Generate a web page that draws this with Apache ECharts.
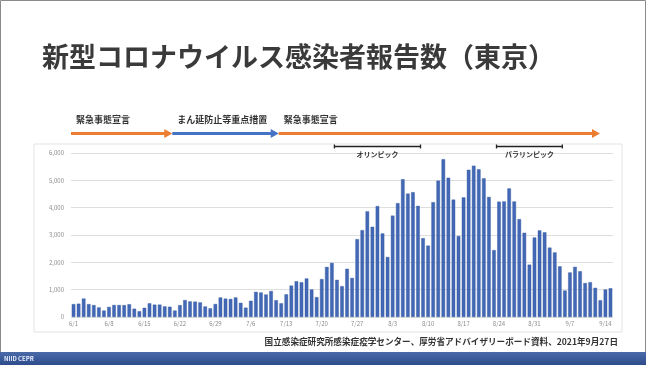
<!DOCTYPE html>
<html>
<head>
<meta charset="utf-8">
<script src="https://cdn.jsdelivr.net/npm/echarts@6/dist/echarts.min.js"></script>
<style>
html,body{margin:0;padding:0;background:#fff;}
#c{width:646px;height:365px;}
</style>
</head>
<body>
<div id="c"></div>
<script>
// Tokyo daily reported COVID-19 cases, 2021-06-01 .. 2021-09-15
const titleText = '新型コロナウイルス感染者報告数（東京）';
const sourceText = '国立感染症研究所感染症疫学センター、厚労省アドバイザリーボード資料、2021年9月27日';
const footerText = 'NIID CEPR';

const junCases = [471, 487, 676, 472, 436, 351, 235, 369, 440, 439, 435, 467, 304, 209, 337,
  501, 452, 453, 388, 376, 236, 435, 619, 570, 562, 534, 386, 317, 476, 714];
const julCases = [673, 660, 716, 518, 342, 593, 920, 896, 822, 950, 614, 502, 830, 1149, 1308,
  1271, 1410, 1008, 727, 1387, 1832, 1979, 1359, 1128, 1763, 1429, 2848, 3177, 3865, 3300, 4058];
const augCases = [3058, 2195, 3709, 4166, 5042, 4515, 4566, 4066, 2884, 2612, 4200, 4989, 5773, 5094, 4295,
  2962, 4377, 5386, 5534, 5405, 5074, 4392, 2447, 4220, 4228, 4704, 4227, 3581, 3081, 1915, 2909];
const sepCases = [3168, 3099, 2539, 2362, 1853, 968, 1629, 1834, 1675, 1242, 1273, 1067, 611, 1004, 1052];

const monthDays = [[6, junCases.length], [7, julCases.length], [8, augCases.length], [9, sepCases.length]];
const yTicks = [0, 1000, 2000, 3000, 4000, 5000, 6000];

// measures in force (segment start dates) and sporting events
const measures = [
  { label: '緊急事態宣言', from: '6/1', color: '#ED7D31' },
  { label: 'まん延防止等重点措置', from: '6/21', color: '#4472C4' },
  { label: '緊急事態宣言', from: '7/12', color: '#ED7D31' }
];
const events = [
  { label: 'オリンピック', from: '7/23', to: '8/8' },
  { label: 'パラリンピック', from: '8/24', to: '9/5' }
];

const days = [];
monthDays.forEach(([m, n]) => { for (let d = 1; d <= n; d++) days.push(m + '/' + d); });
const cases = junCases.concat(julCases, augCases, sepCases);

const FONT = '"Noto Sans CJK JP", "Noto Sans", sans-serif';
const chart = echarts.init(document.getElementById('c'), null, { renderer: 'canvas' });

const grid = { left: 71, top: 153, width: 542, height: 164 };

chart.setOption({
  backgroundColor: '#ffffff',
  animation: false,
  grid: Object.assign({ containLabel: false }, grid),
  xAxis: {
    type: 'category',
    data: days,
    axisLine: { show: false },
    axisTick: { show: false },
    axisLabel: { interval: 6, fontSize: 6, color: '#8c8c8c', margin: 4, fontFamily: FONT }
  },
  yAxis: {
    type: 'value',
    min: yTicks[0],
    max: yTicks[yTicks.length - 1],
    interval: 1000,
    axisLine: { show: false },
    axisTick: { show: false },
    axisLabel: { fontSize: 6, color: '#8c8c8c', margin: 7, fontFamily: FONT },
    splitLine: { lineStyle: { color: '#dedede', width: 1 } }
  },
  series: [{
    type: 'bar',
    data: cases,
    barCategoryGap: '30%',
    itemStyle: { color: '#4268b6', borderColor: '#35589f', borderWidth: 0.4 }
  }]
});

// annotation layer placed from the category axis
const band = grid.width / days.length;
const xAt = d => chart.convertToPixel({ xAxisIndex: 0 }, d);
const arrowY = 133.5;
const arrowEnd = grid.left + grid.width - 13;
const g = [];

// slide frame and bottom band
g.push({ type: 'rect', shape: { x: 0.5, y: 0.5, width: 645, height: 364 }, style: { fill: null, stroke: '#8a8a8a', lineWidth: 1 }, z: 1 });
g.push({ type: 'rect', shape: { x: 34, y: 144, width: 588, height: 188 }, style: { fill: null, stroke: '#e3e3e3', lineWidth: 1 }, z: 1 });
g.push({ type: 'rect', shape: { x: 0, y: 352, width: 646, height: 13 },
  style: { fill: new echarts.graphic.LinearGradient(0, 0, 0, 1, [{ offset: 0, color: '#4a6aa8' }, { offset: 1, color: '#2e4c8c' }]) }, z: 2 });
g.push({ type: 'text', x: 4, y: 358.5, style: { text: footerText, fill: '#e8eefc', font: 'bold 6px ' + FONT, verticalAlign: 'middle' }, z: 3 });

// title
g.push({ type: 'text', x: 42, y: 57, style: { text: titleText, fill: '#3a3a3a', font: 'bold 27px ' + FONT, verticalAlign: 'middle' }, z: 3 });

// measure arrows
measures.forEach((m, i) => {
  const x0 = xAt(m.from) - band / 2;
  const x1 = i < measures.length - 1 ? xAt(measures[i + 1].from) - band / 2 : arrowEnd;
  g.push({ type: 'line', shape: { x1: x0, y1: arrowY, x2: x1 - 6, y2: arrowY }, style: { stroke: m.color, lineWidth: 3.2 }, z: 3 });
  g.push({ type: 'polygon', shape: { points: [[x1 - 8, arrowY - 4.5], [x1, arrowY], [x1 - 8, arrowY + 4.5]] }, style: { fill: m.color }, z: 3 });
  g.push({ type: 'text', x: x0 + 5, y: 120, style: { text: m.label, fill: '#333', font: 'bold 9px ' + FONT, verticalAlign: 'middle' }, z: 3 });
});

// event brackets
events.forEach(e => {
  const x0 = xAt(e.from) - band / 2;
  const x1 = xAt(e.to) + band / 2;
  const y = 146.5;
  g.push({ type: 'line', shape: { x1: x0, y1: y, x2: x1, y2: y }, style: { stroke: '#222', lineWidth: 1.3 }, z: 3 });
  g.push({ type: 'line', shape: { x1: x0, y1: y - 2, x2: x0, y2: y + 2 }, style: { stroke: '#222', lineWidth: 1.3 }, z: 3 });
  g.push({ type: 'line', shape: { x1: x1, y1: y - 2, x2: x1, y2: y + 2 }, style: { stroke: '#222', lineWidth: 1.3 }, z: 3 });
  g.push({ type: 'text', x: (x0 + x1) / 2, y: 154.5, style: { text: e.label, fill: '#333', font: 'bold 7px ' + FONT, align: 'center', verticalAlign: 'middle' }, z: 3 });
});

// source note
g.push({ type: 'text', x: 618, y: 341.5, style: { text: sourceText, fill: '#333', font: 'bold 8.6px ' + FONT, align: 'right', verticalAlign: 'middle' }, z: 3 });

chart.setOption({ graphic: g });
</script>
</body>
</html>
